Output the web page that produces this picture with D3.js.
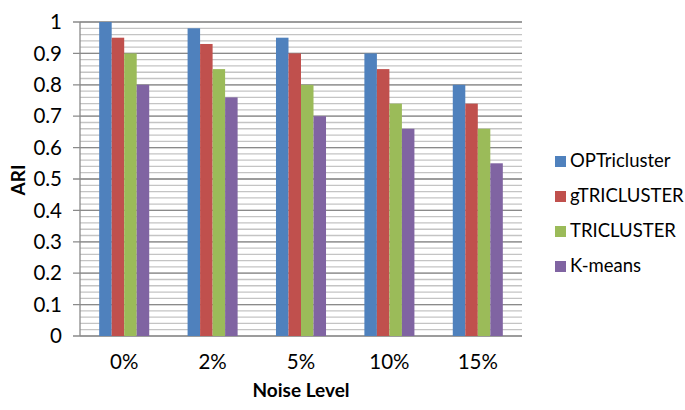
<!DOCTYPE html>
<html>
<head>
<meta charset="utf-8">
<script src="https://cdn.jsdelivr.net/npm/d3@7"></script>
<style>
  body { margin: 0; background: #fff; }
  text { font-family: Lato, "Open Sans", sans-serif; fill: #000; }
</style>
</head>
<body>
<div id="chart"></div>
<script>
// data
const noise_levels = ["0%", "2%", "5%", "10%", "15%"];
const methods = ["OPTricluster", "gTRICLUSTER", "TRICLUSTER", "K-means"];
const optricluster = [1.0, 0.98, 0.95, 0.90, 0.80];
const gtricluster = [0.95, 0.93, 0.90, 0.85, 0.74];
const tricluster = [0.90, 0.85, 0.80, 0.74, 0.66];
const kmeans = [0.80, 0.76, 0.70, 0.66, 0.55];
const y_ticks = [0, 0.1, 0.2, 0.3, 0.4, 0.5, 0.6, 0.7, 0.8, 0.9, 1];
const colors = ["#4F81BD", "#C0504D", "#9BBB59", "#8064A2"];

const series = [optricluster, gtricluster, tricluster, kmeans];
const data = noise_levels.map((lvl, i) => ({
    level: lvl,
    values: methods.map((m, j) => ({method: m, value: series[j][i]}))
}));

// layout
const width = 685, height = 410;
const margin = {top: 22, right: 163, bottom: 74, left: 80};
const plot_w = width - margin.left - margin.right;
const plot_h = height - margin.top - margin.bottom;

const svg = d3.select("#chart")
    .append("svg")
    .attr("width", width)
    .attr("height", height);

const g = svg.append("g")
    .attr("transform", "translate(" + margin.left + "," + margin.top + ")");

// scales
const x0 = d3.scaleBand()
    .domain(noise_levels)
    .range([0, plot_w])
    .paddingInner(0.434)
    .paddingOuter(0.217);

const x1 = d3.scaleBand()
    .domain(methods)
    .range([0, x0.bandwidth()]);

const y = d3.scaleLinear()
    .domain([0, 1])
    .range([plot_h, 0]);

// minor gridlines every 0.02
const minor_ticks = d3.range(0, 51).map(d => d / 50);
g.selectAll(".minor")
    .data(minor_ticks)
    .enter()
    .append("line")
    .attr("class", "minor")
    .attr("x1", 0)
    .attr("x2", plot_w)
    .attr("y1", d => y(d))
    .attr("y2", d => y(d))
    .attr("stroke", "#c4c4c4")
    .attr("stroke-width", 1.3);

// major gridlines
g.selectAll(".major")
    .data(y_ticks)
    .enter()
    .append("line")
    .attr("class", "major")
    .attr("x1", -7)
    .attr("x2", plot_w)
    .attr("y1", d => y(d))
    .attr("y2", d => y(d))
    .attr("stroke", "#8a8a8a")
    .attr("stroke-width", 1.3);

// y axis line
g.append("line")
    .attr("x1", 0).attr("x2", 0)
    .attr("y1", 0).attr("y2", plot_h)
    .attr("stroke", "#8a8a8a")
    .attr("stroke-width", 1.3);

// y tick labels
g.selectAll(".ylab")
    .data(y_ticks)
    .enter()
    .append("text")
    .attr("class", "ylab")
    .attr("x", -18)
    .attr("y", d => y(d))
    .attr("dy", "0.35em")
    .attr("text-anchor", "end")
    .attr("font-size", "20.5px")
    .text(d => d);

// bars
const groups = g.selectAll(".grp")
    .data(data)
    .enter()
    .append("g")
    .attr("class", "grp")
    .attr("transform", d => "translate(" + x0(d.level) + ",0)");

groups.selectAll("rect")
    .data(d => d.values)
    .enter()
    .append("rect")
    .attr("x", d => x1(d.method))
    .attr("y", d => y(d.value))
    .attr("width", x1.bandwidth())
    .attr("height", d => plot_h - y(d.value))
    .attr("fill", (d, i) => colors[i]);

// x labels
g.selectAll(".xlab")
    .data(noise_levels)
    .enter()
    .append("text")
    .attr("class", "xlab")
    .attr("x", d => x0(d) + x0.bandwidth() / 2)
    .attr("y", plot_h + 33)
    .attr("text-anchor", "middle")
    .attr("font-size", "20.5px")
    .text(d => d);

// axis titles
g.append("text")
    .attr("x", plot_w / 2)
    .attr("y", plot_h + 61)
    .attr("text-anchor", "middle")
    .attr("font-size", "19px")
    .attr("font-weight", "bold")
    .text("Noise Level");

g.append("text")
    .attr("transform", "translate(" + (-55) + "," + (plot_h / 2 + 1) + ") rotate(-90)")
    .attr("text-anchor", "middle")
    .attr("font-size", "19px")
    .attr("font-weight", "bold")
    .text("ARI");

// legend
const legend = svg.append("g")
    .attr("transform", "translate(555,161)");

const items = legend.selectAll(".leg")
    .data(methods)
    .enter()
    .append("g")
    .attr("class", "leg")
    .attr("transform", (d, i) => "translate(0," + i * 35 + ")");

items.append("rect")
    .attr("x", 0)
    .attr("y", -5)
    .attr("width", 11)
    .attr("height", 11)
    .attr("fill", (d, i) => colors[i]);

items.append("text")
    .attr("x", 15)
    .attr("y", 0)
    .attr("dy", "0.35em")
    .attr("font-size", "18.5px")
    .text(d => d);
</script>
</body>
</html>
